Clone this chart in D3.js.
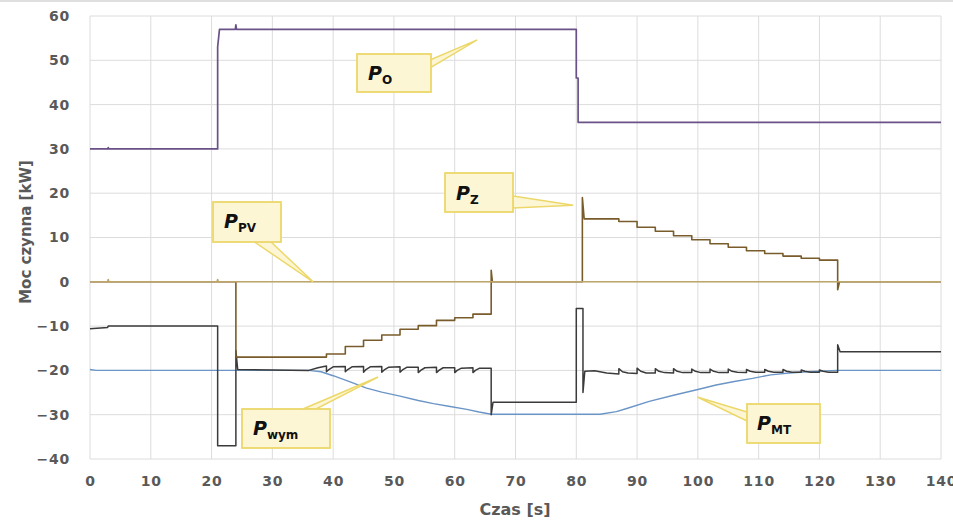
<!DOCTYPE html>
<html>
<head>
<meta charset="utf-8">
<script src="https://cdn.jsdelivr.net/npm/d3@7"></script>
<style>
  body { margin: 0; background: #fff; }
  svg { display: block; }
</style>
</head>
<body>
<div id="chart"></div>
<script>
// ---- data: [time s, power kW]
var pO = [[0,30],[2.9,30],[3,30.3],[3.1,30],[21,30],[21,53],[21.3,57],[23.9,57],[24,58],[24.1,57],
          [80,57],[80,46],[80.3,46],[80.3,36],[140,36]];

var pPV = [[0,0],[2.9,0],[3,0.5],[3.1,0],[20.9,0],[21,0.5],[21.1,0],[140,0]];

var pZ = [[0,0],[24,0],[24,-17],[38.9,-17],[38.9,-16.3],[42,-16.3],[42,-14.6],[45,-14.6],
          [45,-13.2],[48,-13.2],[48,-12],[51,-12],[51,-10.7],[54,-10.7],[54,-9.9],[57,-9.9],
          [57,-8.7],[60,-8.7],[60,-8.1],[63,-8.1],[63,-7.3],[66,-7.3],[66,2.6],[66.2,0],
          [81,0],[81,19],[81.3,14.2],[87,14.2],[87,13.6],[90,13.6],[90,12.3],[93,12.3],
          [93,11.4],[96,11.4],[96,10.4],[99,10.4],[99,9.5],[102,9.5],[102,8.6],[105,8.6],
          [105,7.8],[108,7.8],[108,7.0],[111,7.0],[111,6.4],[114,6.4],[114,5.8],[117,5.8],
          [117,5.3],[120,5.3],[120,4.9],[123,4.9],[123,-1.8],[123.3,0],[140,0]];

var pWym = [[0,-10.6],[2.9,-10.3],[3,-10],[21,-10],[21,-37],[24,-37],[24,-15.5],[24.3,-19.8],
            [36,-20],[37.5,-19.4],[38.9,-19.0],
            [38.9,-20.3],[39.3,-19.8],[40,-19.2],[42,-19.1],
            [42,-20.3],[42.4,-19.8],[43.1,-19.2],[45,-19.1],
            [45,-20.4],[45.4,-19.8],[46.1,-19.2],[48,-19.1],
            [48,-20.4],[48.4,-19.9],[49.1,-19.3],[51,-19.2],
            [51,-20.4],[51.4,-19.9],[52.1,-19.3],[54,-19.3],
            [54,-20.5],[54.4,-20.0],[55.1,-19.4],[57,-19.3],
            [57,-20.5],[57.4,-20.0],[58.1,-19.4],[60,-19.4],
            [60,-20.5],[60.4,-20.0],[61.1,-19.5],[63,-19.4],
            [63,-20.5],[63.4,-20.0],[64.1,-19.5],[66,-19.5],
            [66,-30],[66.3,-27.2],[80,-27.2],[80,-6],[81.1,-6],[81.1,-25],[81.4,-20.2],
            [83,-20.1],[85,-20.6],[87,-20.8],
            [87,-19.6],[87.6,-20.3],[88.5,-20.6],[90,-20.7],
            [90,-19.5],[90.6,-20.2],[91.5,-20.6],[93,-20.6],
            [93,-19.6],[93.6,-20.2],[94.5,-20.5],[96,-20.6],
            [96,-19.6],[96.6,-20.2],[97.5,-20.5],[99,-20.5],
            [99,-19.7],[99.6,-20.2],[100.5,-20.5],[102,-20.5],
            [102,-19.7],[102.6,-20.2],[103.5,-20.5],[105,-20.5],
            [105,-19.7],[105.6,-20.2],[106.5,-20.4],[108,-20.5],
            [108,-19.8],[108.6,-20.2],[109.5,-20.4],[111,-20.4],
            [111,-19.8],[111.6,-20.2],[112.5,-20.4],[114,-20.4],
            [114,-19.8],[114.6,-20.2],[115.5,-20.4],[117,-20.4],
            [117,-19.9],[117.6,-20.2],[118.5,-20.4],[120,-20.4],
            [120,-19.9],[120.6,-20.2],[121.5,-20.4],[123,-20.4],
            [123,-14.2],[123.4,-15.8],[140,-15.8]];

var pMT = [[0,-19.8],[1,-20],[36,-20],[38,-20.3],[40,-21.2],[42.8,-22.6],[45.5,-24.0],[48,-24.9],
           [51,-25.8],[54,-26.8],[56.5,-27.5],[59,-28.1],[62,-28.8],[64,-29.4],[66,-29.9],
           [83.9,-29.9],[86.6,-29.3],[88.3,-28.6],[92,-27.0],[96,-25.6],[100,-24.3],[103,-23.3],
           [106,-22.5],[109,-21.8],[112,-21.0],[115,-20.6],[118,-20.3],[121,-20.1],[123,-20],[140,-20]];

var xTicks = d3.range(0, 141, 10);
var yTicks = d3.range(-40, 61, 10);

var series = [
  { data: pMT,  color: "#6b95c6", w: 1.4 },
  { data: pWym, color: "#3b3b3b", w: 1.5 },
  { data: pZ,   color: "#7a5c2c", w: 1.6 },
  { data: pPV,  color: "#bea56a", w: 1.6 },
  { data: pO,   color: "#6a5288", w: 1.7 }
];

// callouts: tip is on the data, box is layout in px
var callouts = [
  { sub: "O",   tip: [63.7, 54.6], box: [357, 54, 74, 38],  base: [[430,60],[430,68]],  txt: [368, 80] },
  { sub: "PV",  tip: [36.7, 0],    box: [213, 202, 68, 40], base: [[253,241],[270,241]], txt: [224, 228] },
  { sub: "Z",   tip: [79.5, 17.3], box: [445, 173, 68, 39], base: [[513,196],[513,208]], txt: [456, 200] },
  { sub: "wym", tip: [47.4, -21.5],box: [242, 409, 88, 39], base: [[303,409],[316,409]], txt: [253, 435] },
  { sub: "MT",  tip: [99.9, -26.0],box: [747, 404, 73, 39], base: [[747,412],[747,421]], txt: [757, 430] }
];

var W = 953, H = 520;
var svg = d3.select("#chart").append("svg")
    .attr("width", W).attr("height", H)
    .style("font-family", "'DejaVu Sans', sans-serif");

svg.append("rect").attr("width", W).attr("height", H).attr("fill", "#fff");
svg.append("line").attr("x1", 0).attr("x2", W).attr("y1", 1).attr("y2", 1)
    .attr("stroke", "#d4d4d4").attr("stroke-width", 1.5);

var x = d3.scaleLinear().domain([0, 140]).range([90, 941]);
var y = d3.scaleLinear().domain([-40, 60]).range([459, 16]);

// grid
svg.append("g").selectAll("line").data(xTicks).join("line")
    .attr("x1", d => x(d)).attr("x2", d => x(d))
    .attr("y1", y(60)).attr("y2", y(-40))
    .attr("stroke", "#dcdcdc").attr("stroke-width", 1);
svg.append("g").selectAll("line").data(yTicks).join("line")
    .attr("x1", x(0)).attr("x2", x(140))
    .attr("y1", d => y(d)).attr("y2", d => y(d))
    .attr("stroke", "#dcdcdc").attr("stroke-width", 1);

// axes (labels only)
var xAxis = svg.append("g")
    .attr("transform", "translate(0," + y(-40) + ")")
    .call(d3.axisBottom(x).tickValues(xTicks).tickSize(0).tickPadding(17));
var yAxis = svg.append("g")
    .attr("transform", "translate(" + x(0) + ",0)")
    .call(d3.axisLeft(y).tickValues(yTicks).tickSize(0).tickPadding(20));
[xAxis, yAxis].forEach(function(g) {
  g.select(".domain").remove();
  g.selectAll("text")
    .attr("fill", "#595959")
    .style("font-family", "'DejaVu Sans', sans-serif")
    .style("font-weight", "bold")
    .style("font-size", "14px")
    .style("letter-spacing", "0.8px");
});

svg.append("text")
    .attr("x", 515).attr("y", 515)
    .attr("text-anchor", "middle")
    .attr("fill", "#595959")
    .style("font-weight", "bold").style("font-size", "16px")
    .text("Czas [s]");

svg.append("text")
    .attr("transform", "translate(31,232)rotate(-90)")
    .attr("text-anchor", "middle")
    .attr("fill", "#595959")
    .style("font-weight", "bold").style("font-size", "15px")
    .text("Moc czynna [kW]");

// lines
var line = d3.line().x(d => x(d[0])).y(d => y(d[1]));
series.forEach(function(s) {
  svg.append("path")
    .datum(s.data)
    .attr("fill", "none")
    .attr("stroke", s.color)
    .attr("stroke-width", s.w)
    .attr("stroke-linejoin", "round")
    .attr("d", line);
});

// callouts
var fillC = "#fdf6d4", strokeC = "#ecd86a";
callouts.forEach(function(c) {
  var g = svg.append("g");
  var tip = [x(c.tip[0]), y(c.tip[1])];
  var tri = [c.base[0], tip, c.base[1]];
  g.append("path")
    .attr("d", d3.line()(tri) + "Z")
    .attr("fill", fillC).attr("stroke", strokeC).attr("stroke-width", 1.5);
  g.append("rect")
    .attr("x", c.box[0]).attr("y", c.box[1])
    .attr("width", c.box[2]).attr("height", c.box[3])
    .attr("fill", fillC).attr("stroke", strokeC).attr("stroke-width", 1.8);
  var t = g.append("text").attr("x", c.txt[0]).attr("y", c.txt[1]).attr("fill", "#111");
  t.append("tspan")
    .style("font-weight", "bold").style("font-style", "italic").style("font-size", "19px")
    .text("P");
  t.append("tspan")
    .attr("dy", 4)
    .style("font-weight", "bold").style("font-size", "12px")
    .text(c.sub);
});
</script>
</body>
</html>
